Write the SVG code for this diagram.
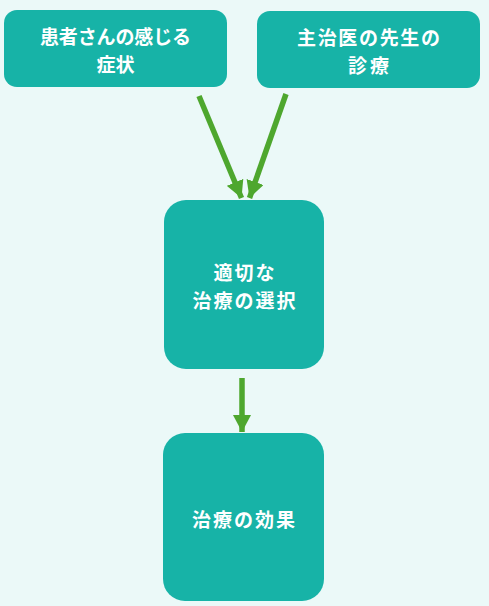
<svg xmlns="http://www.w3.org/2000/svg" width="489" height="606" viewBox="0 0 489 606">
<style>
.node{fill:#17b3a7}
.lbl{fill:#ffffff;font-family:"Noto Sans CJK JP","Noto Sans",sans-serif;font-weight:bold;font-size:19px;text-anchor:middle;dominant-baseline:central}
.edge{stroke:#4ea72e;stroke-width:5.5;fill:none}
</style>
<defs>
<marker id="ah" markerUnits="userSpaceOnUse" markerWidth="18" markerHeight="18" viewBox="0 0 18 18" refX="17" refY="9" orient="auto">
<path d="M0,0 L17,9 L0,18 Z" fill="#4ea72e"/>
</marker>
</defs>
<rect width="489" height="606" fill="#ebf9f8"/>
<g id="connectors">
<line class="edge" x1="199" y1="96" x2="241.5" y2="198" marker-end="url(#ah)"/>
<line class="edge" x1="286" y1="94" x2="249.5" y2="198" marker-end="url(#ah)"/>
<line class="edge" x1="242" y1="378" x2="242" y2="432" marker-end="url(#ah)"/>
</g>
<g id="n1">
<rect class="node" x="4" y="10" width="223" height="77" rx="13"/>
<text class="lbl" x="115.5" y="35.2" textLength="151" lengthAdjust="spacing">患者さんの感じる</text>
<text class="lbl" x="115.5" y="63.2">症状</text>
</g>
<g id="n2">
<rect class="node" x="257" y="11" width="223" height="77" rx="13"/>
<text class="lbl" x="368.5" y="36.2" textLength="143" lengthAdjust="spacing">主治医の先生の</text>
<text class="lbl" x="368.5" y="64.2" textLength="41" lengthAdjust="spacing">診療</text>
</g>
<g id="n3">
<rect class="node" x="164" y="200" width="160" height="169" rx="22"/>
<text class="lbl" x="244" y="271.2" textLength="61" lengthAdjust="spacing">適切な</text>
<text class="lbl" x="244" y="299.2" textLength="103" lengthAdjust="spacing">治療の選択</text>
</g>
<g id="n4">
<rect class="node" x="163" y="433" width="161" height="168" rx="22"/>
<text class="lbl" x="243.5" y="518" textLength="103" lengthAdjust="spacing">治療の効果</text>
</g>
</svg>
